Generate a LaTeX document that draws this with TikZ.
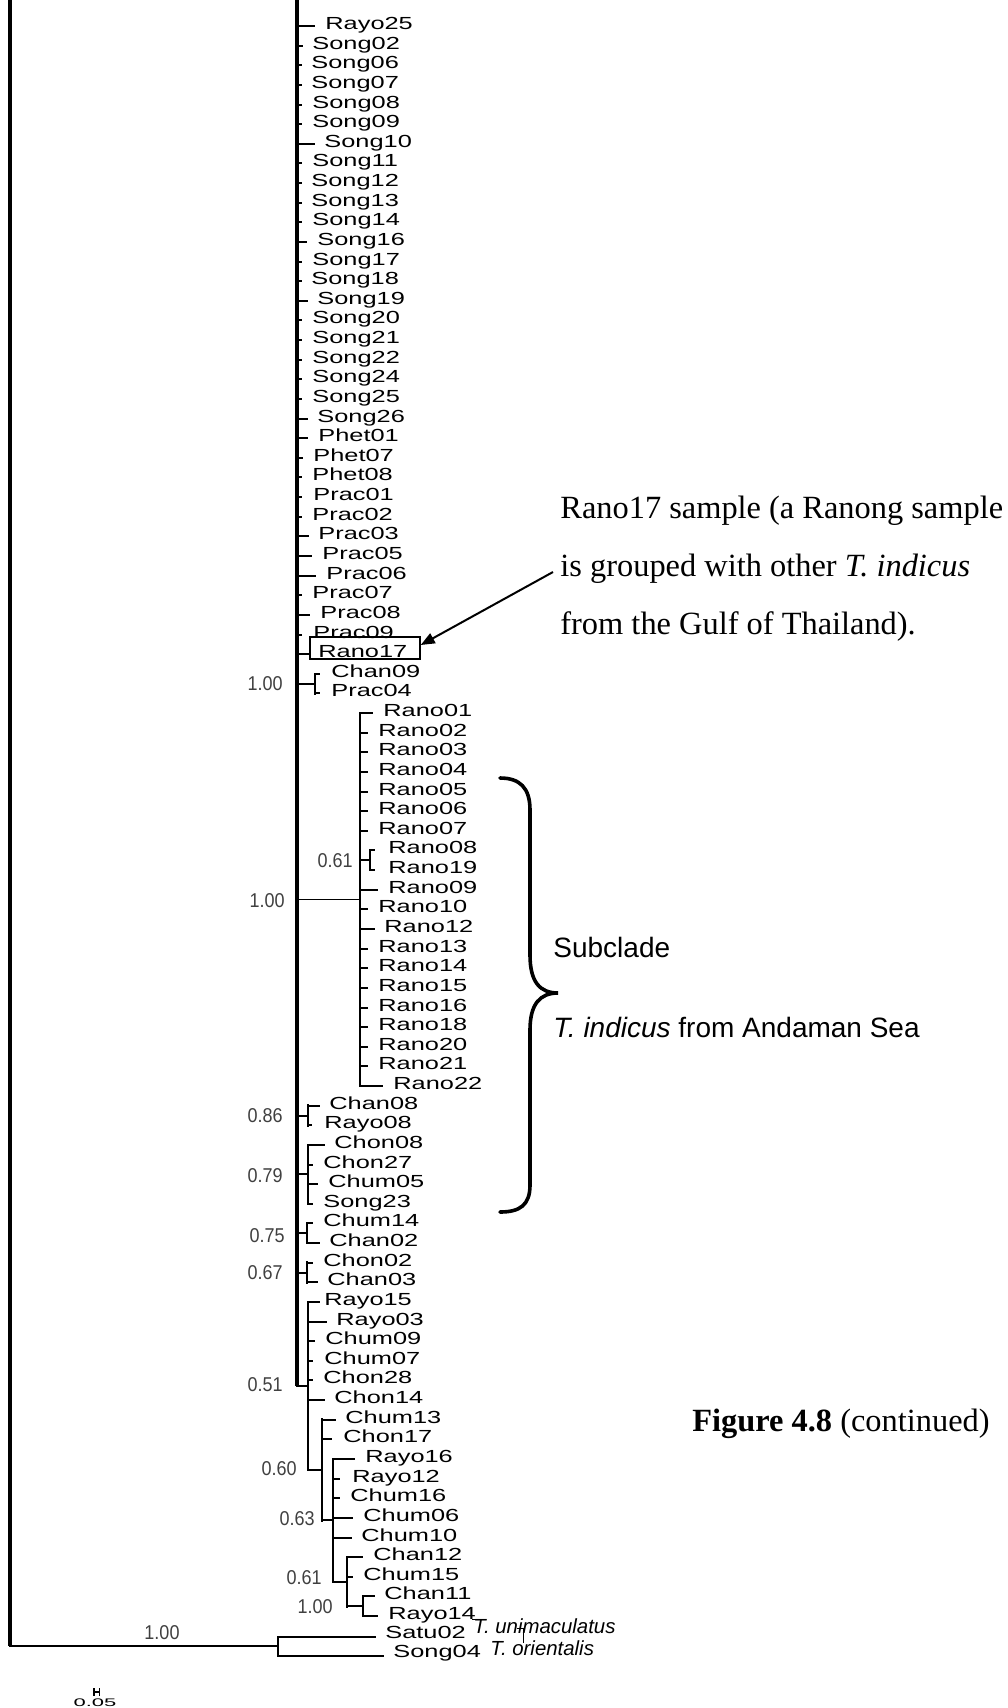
\documentclass[tikz,border=0pt]{standalone}
\usepackage{fontspec}
\setmainfont{Liberation Serif}
\newfontfamily\labfont[FakeStretch=1.45]{Liberation Sans}
\newfontfamily\arialfont{Liberation Sans}
\newfontfamily\bsfont[FakeStretch=0.9]{Liberation Sans}
\newfontfamily\sbarfont[FakeStretch=2]{Liberation Sans}
\usetikzlibrary{arrows.meta}
\begin{document}
\begin{tikzpicture}[x=0.5pt,y=-0.5pt,
  lab/.style={font=\labfont\fontsize{8.75}{10}\selectfont, inner sep=0pt, anchor=base west},
  bs/.style={font=\bsfont\fontsize{10}{12}\selectfont, text=black!75, inner sep=0pt, anchor=base east},
  ann/.style={font=\fontsize{16.2}{19}\selectfont, inner sep=0pt, anchor=base west},
  sub/.style={font=\arialfont\fontsize{14}{17}\selectfont, inner sep=0pt, anchor=base west},
  spc/.style={font=\arialfont\itshape\fontsize{10.2}{12}\selectfont, inner sep=0pt, anchor=base west},
  tickline/.style={line width=1pt},
  midline/.style={line width=1pt, line cap=rect},
  thinline/.style={line width=0.75pt},
  barline/.style={line width=1.3pt, line cap=rect},
  mainline/.style={line width=1.6pt},
  hairline/.style={line width=0.5pt},
]
\useasboundingbox (0,0) rectangle (1007,1708);

% ---------- backbone ----------
\coordinate (lefttop) at (10,0);
\coordinate (rootnode) at (10,1646);
\coordinate (maintop) at (297,0);
\coordinate (mainbot) at (297,1386);
\draw[mainline] (lefttop) -- (rootnode);
\draw[mainline] (maintop) -- (mainbot);

% ---------- leaves ----------
\foreach \n/\i/\b/\t/\l in {
 Rayo25/0/297/315/325, Song02/1/297/303/312, Song06/2/297/302/311,
 Song07/3/297/302/311, Song08/4/297/302/312, Song09/5/297/302/312,
 Song10/6/297/315/324, Song11/7/297/302/312, Song12/8/297/302/311,
 Song13/9/297/302/311, Song14/10/297/302/312, Song16/11/297/307/317,
 Song17/12/297/302/312, Song18/13/297/302/311, Song19/14/297/308/317,
 Song20/15/297/302/312, Song21/16/297/302/312, Song22/17/297/302/312,
 Song24/18/297/302/312, Song25/19/297/302/312, Song26/20/297/308/317,
 Phet01/21/297/308/318, Phet07/22/297/303/313, Phet08/23/297/302/312,
 Prac01/24/297/302/313, Prac02/25/297/302/312, Prac03/26/297/309/318,
 Prac05/27/297/312/322, Prac06/28/297/316/326, Prac07/29/297/302/312,
 Prac08/30/297/310/320, Prac09/31/297/302/313, Rano17/32/297/310/318,
 Chan09/33/315/320/331, Prac04/34/315/320/331,
 Rano01/35/360/373/383, Rano02/36/360/368/378, Rano03/37/360/368/378,
 Rano04/38/360/368/378, Rano05/39/360/368/378, Rano06/40/360/368/378,
 Rano07/41/360/368/378, Rano08/42/370/375/388, Rano19/43/370/375/388,
 Rano09/44/360/378/388, Rano10/45/360/368/378, Rano12/46/360/375/384,
 Rano13/47/360/368/378, Rano14/48/360/368/378, Rano15/49/360/368/378,
 Rano16/50/360/368/378, Rano18/51/360/368/378, Rano20/52/360/368/378,
 Rano21/53/360/368/378, Rano22/54/360/383/393,
 Chan08/55/308/320/329, Rayo08/56/308/312/324,
 Chon08/57/308/325/334, Chon27/58/308/313/323, Chum05/59/308/318/328,
 Song23/60/308/313/323,
 Chum14/61/307/313/323, Chan02/62/307/320/329,
 Chon02/63/307/313/323, Chan03/64/307/318/327,
 Rayo15/65/308/320/324, Rayo03/66/308/327/336, Chum09/67/308/315/325,
 Chum07/68/308/313/324, Chon28/69/308/313/323, Chon14/70/308/325/334,
 Chum13/71/322/336/345, Chon17/72/322/332/343,
 Rayo16/73/333/355/365, Rayo12/74/333/340/352, Chum16/75/333/340/350,
 Chum06/76/333/353/363, Chum10/77/333/352/361,
 Chan12/78/347/363/373, Chum15/79/347/353/363,
 Chan11/80/363/375/384, Rayo14/81/363/378/388}
{
  \coordinate (b\n) at (\b,{26+19.63*\i});
  \coordinate (t\n) at (\t,{26+19.63*\i});
  \draw[tickline] (b\n) -- (t\n);
  \node[lab] (\n) at (\l,{29.5+19.63*\i}) {\n};
}

% ---------- internal nodes ----------
\coordinate (nA0) at (297,683.6); \coordinate (nA) at (315,683.6);
\draw[midline] (nA0) -- (nA);
\draw[barline] (315,673.8) -- (315,693.4);
\coordinate (nR0) at (297,899.5); \coordinate (nR) at (360,899.5);
\draw[thinline] (nR0) -- (nR);
\draw[barline] (360,713.05) -- (360,1086);
\coordinate (nR80) at (360,860.3); \coordinate (nR8) at (370,860.3);
\draw[midline] (nR80) -- (nR8);
\draw[barline] (370,850.5) -- (370,870.1);
\coordinate (nB0) at (297,1115.5); \coordinate (nB) at (308,1115.5);
\draw[midline] (nB0) -- (nB);
\draw[barline] (308,1105.65) -- (308,1125.3);
\coordinate (nC0) at (297,1174.35); \coordinate (nC) at (308,1174.35);
\draw[midline] (nC0) -- (nC);
\draw[barline] (308,1144.9) -- (308,1203.8);
\coordinate (nD0) at (297,1233.2); \coordinate (nD) at (307,1233.2);
\draw[midline] (nD0) -- (nD);
\draw[barline] (307,1223.4) -- (307,1243.1);
\coordinate (nE0) at (297,1272.5); \coordinate (nE) at (307,1272.5);
\draw[midline] (nE0) -- (nE);
\draw[barline] (307,1262.7) -- (307,1282.3);
\coordinate (nF) at (308,1386);
\draw[midline] (mainbot) -- (nF);
\draw[barline] (308,1302) -- (308,1470);
\coordinate (nG0) at (308,1470); \coordinate (nG) at (322,1470);
\draw[midline] (nG0) -- (nG);
\draw[barline] (322,1419.7) -- (322,1520.3);
\coordinate (nH0) at (322,1520.3); \coordinate (nH) at (333,1520.3);
\draw[midline] (nH0) -- (nH);
\draw[barline] (333,1459) -- (333,1581.7);
\coordinate (nI0) at (333,1581.7); \coordinate (nI) at (347,1581.7);
\draw[midline] (nI0) -- (nI);
\draw[barline] (347,1557.1) -- (347,1606.2);
\coordinate (nJ0) at (347,1606.2); \coordinate (nJ) at (363,1606.2);
\draw[midline] (nJ0) -- (nJ);
\draw[barline] (363,1596.4) -- (363,1616);

% ---------- outgroup ----------
\coordinate (nO) at (278,1646);
\coordinate (oS) at (278,1637);
\coordinate (oT) at (278,1656);
\coordinate (eSatu) at (375,1637);
\coordinate (eSong) at (383,1656);
\draw[midline] (rootnode) -- (nO);
\draw[barline] (oS) -- (oT);
\draw[midline] (oS) -- (eSatu);
\draw[midline] (oT) -- (eSong);
\node[lab] (Satu02) at (385,1638) {Satu02};
\node[lab] (Song04) at (393,1657) {Song04};
\node[spc] (spU) at (473,1633) {T. unimaculatus};
\node[spc] (spO) at (490,1655) {T. orientalis};
\coordinate (brA) at (517,1628);
\coordinate (brB) at (523,1628);
\coordinate (brC) at (523,1643);
\draw[hairline] (brA) -- (brB) -- (brC);
\coordinate (ryA) at (472,1619);
\coordinate (ryB) at (478,1619);
\draw[hairline] (ryA) -- (ryB);

% ---------- support values ----------
\node[bs] (s1) at (283,690) {1.00};
\node[bs] (s2) at (285,907) {1.00};
\node[bs] (s3) at (353,867) {0.61};
\node[bs] (s4) at (283,1122) {0.86};
\node[bs] (s5) at (283,1182) {0.79};
\node[bs] (s6) at (285,1242) {0.75};
\node[bs] (s7) at (283,1279) {0.67};
\node[bs] (s8) at (283,1391) {0.51};
\node[bs] (s9) at (297,1475) {0.60};
\node[bs] (s10) at (315,1525) {0.63};
\node[bs] (s11) at (322,1584) {0.61};
\node[bs] (s12) at (333,1613) {1.00};
\node[bs, anchor=base] (s13) at (162,1639) {1.00};

% ---------- Rano17 box and annotation ----------
\node[draw, line width=0.7pt, minimum width=55pt, minimum height=11pt, inner sep=0pt] (rbox) at (365,648) {};
\node[ann] (ann1) at (560,518) {Rano17 sample (a Ranong sample};
\node[ann] (ann2) at (560,576) {is grouped with other \textit{T. indicus}};
\node[ann] (ann3) at (560,634) {from the Gulf of Thailand).};
\coordinate (atail) at (553,572);
\draw[line width=1pt, -{Triangle[length=7pt,width=5.5pt]}] (atail) -- ([yshift=1.5pt]rbox.east);

% ---------- subclade brace ----------
\draw[line width=1.8pt, line cap=round]
  (500,778) .. controls (520,778) and (530,788) .. (530,810)
  -- (530,955) .. controls (530,982) and (540,993) .. (558,993)
  .. controls (540,993) and (530,1004) .. (530,1030)
  -- (530,1185) .. controls (530,1205) and (520,1212) .. (500,1212);
\node[sub] (subc) at (553,957) {Subclade};
\node[sub] (subt) at (553,1037) {\textit{T. indicus} from Andaman Sea};

% ---------- caption ----------
\node[ann] (cap) at (692,1431) {\textbf{Figure 4.8} (continued)};

% ---------- scale bar ----------
\coordinate (sbL) at (94,1692);
\coordinate (sbR) at (99.5,1692);
\draw[line width=0.9pt] (94,1688) -- (94,1696);
\draw[line width=0.9pt] (99.5,1688) -- (99.5,1696);
\draw[line width=0.9pt] (sbL) -- (sbR);
\node[font=\sbarfont\fontsize{5.5}{6}\selectfont, inner sep=0pt, anchor=base] (sbt) at (95,1706) {0.05};
\end{tikzpicture}
\end{document}
